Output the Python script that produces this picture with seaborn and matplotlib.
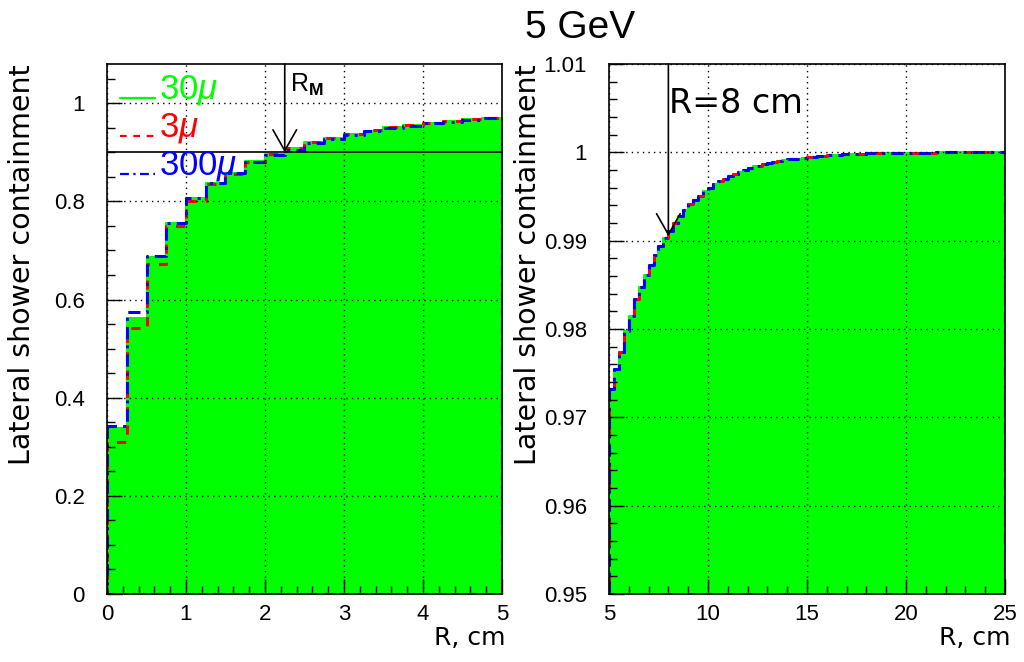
import numpy as np
import pandas as pd
import matplotlib
matplotlib.use('Agg')
import matplotlib.pyplot as plt
import seaborn as sns
from matplotlib.ticker import MultipleLocator, FuncFormatter
from matplotlib.lines import Line2D
from matplotlib.legend_handler import HandlerLine2D

# bin edges (cm)
r_edges_left = np.arange(0, 5.01, 0.25)
r_edges_right = np.arange(5, 25.01, 0.25)

# containment per bin
cont_30_left = [0.338, 0.563, 0.687, 0.757, 0.806, 0.838, 0.858, 0.882, 0.897, 0.908,
                0.921, 0.929, 0.938, 0.944, 0.951, 0.955, 0.960, 0.963, 0.967, 0.971]
cont_3_left = [0.310, 0.543, 0.672, 0.750, 0.800, 0.835, 0.856, 0.880, 0.897, 0.908,
               0.922, 0.930, 0.938, 0.945, 0.951, 0.956, 0.960, 0.964, 0.967, 0.971]
cont_300_left = [0.343, 0.574, 0.689, 0.757, 0.806, 0.838, 0.858, 0.881, 0.895, 0.905,
                 0.919, 0.928, 0.936, 0.943, 0.950, 0.954, 0.959, 0.962, 0.966, 0.970]

cont_30_right = [0.9732, 0.9755, 0.9774, 0.9798, 0.9815, 0.9834, 0.9848, 0.9861, 0.9873, 0.9884, 0.9894, 0.9903,
                 0.9911, 0.9920, 0.9928, 0.9935, 0.9941, 0.9946, 0.9951, 0.9956, 0.9960, 0.9964, 0.9967, 0.9970,
                 0.9973, 0.9976, 0.9978, 0.9980, 0.9982, 0.9984, 0.9985, 0.9987, 0.9988, 0.9989, 0.9990, 0.9991,
                 0.9992, 0.9993, 0.9993, 0.9994, 0.9995, 0.9995, 0.9996, 0.9996, 0.9997, 0.9997, 0.9997, 0.9998,
                 0.9998, 0.9998, 0.9998, 0.9998, 0.9999, 0.9999, 0.9999, 0.9999, 0.9999, 0.9999, 0.9999, 0.9999,
                 0.9999, 0.9999, 0.9999, 0.9999, 0.9999, 0.9999, 1.0000, 1.0000, 1.0000, 1.0000, 1.0000, 1.0000,
                 1.0000, 1.0000, 1.0000, 1.0000, 1.0000, 1.0000, 1.0000, 1.0000]
# the three curves overlap on the right panel
cont_3_right = cont_30_right
cont_300_right = cont_30_right

labels = ['30$\\mu$', '3$\\mu$', '300$\\mu$']
colors = ['#00ff00', '#ff0000', '#0000ff']
styles = ['-', (0, (3, 3)), (0, (4, 2, 1, 2))]

sns.set_style('white', {'text.color': 'black', 'axes.labelcolor': 'black',
                        'xtick.color': 'black', 'ytick.color': 'black'})
plt.rcParams['font.family'] = ['Liberation Sans', 'DejaVu Sans']
plt.rcParams['mathtext.fontset'] = 'custom'
plt.rcParams['mathtext.it'] = 'Liberation Sans:italic'
plt.rcParams['mathtext.rm'] = 'Liberation Sans'
plt.rcParams['mathtext.bf'] = 'Liberation Sans:bold'

fig = plt.figure(figsize=(10.24, 6.62), dpi=100)
ax1 = fig.add_axes([0.1045, 0.1027, 0.3857, 0.8006])
ax2 = fig.add_axes([0.5947, 0.1027, 0.3867, 0.8006])


def draw_hists(ax, edges, series):
    centers = (edges[:-1] + edges[1:]) / 2
    for i, vals in enumerate(series):
        df = pd.DataFrame({'R': centers, 'cont': vals})
        if i == 0:
            sns.histplot(data=df, x='R', weights='cont', bins=list(edges), element='step', fill=True,
                         color=colors[i], alpha=1, lw=1.5, ax=ax)
        else:
            sns.histplot(data=df, x='R', weights='cont', bins=list(edges), element='step', fill=True,
                         color=colors[i], alpha=0, linestyle=styles[i], lw=2.2, ax=ax)


draw_hists(ax1, r_edges_left, [cont_30_left, cont_3_left, cont_300_left])
draw_hists(ax2, r_edges_right, [cont_30_right, cont_3_right, cont_300_right])

ax1.set_xlim(0, 5)
ax1.set_ylim(0, 1.08)
ax2.set_xlim(5, 25)
ax2.set_ylim(0.95, 1.01)

fmt = FuncFormatter(lambda v, p: f'{v:.2f}'.rstrip('0').rstrip('.'))
ax1.xaxis.set_major_locator(MultipleLocator(1))
ax1.xaxis.set_minor_locator(MultipleLocator(0.2))
ax1.yaxis.set_major_locator(MultipleLocator(0.2))
ax1.yaxis.set_minor_locator(MultipleLocator(0.05))
ax2.xaxis.set_major_locator(MultipleLocator(5))
ax2.xaxis.set_minor_locator(MultipleLocator(1))
ax2.yaxis.set_major_locator(MultipleLocator(0.01))
ax2.yaxis.set_minor_locator(MultipleLocator(0.002))
for ax in (ax1, ax2):
    ax.xaxis.set_major_formatter(fmt)
    ax.yaxis.set_major_formatter(fmt)

for ax in (ax1, ax2):
    ax.set_axisbelow(False)
    ax.grid(True, which='major', color='black', linestyle=(0, (1, 3)), lw=1)
    ax.tick_params(which='major', direction='in', length=11, width=1, labelsize=16,
                   left=True, bottom=True, top=False, right=False)
    ax.tick_params(which='minor', direction='in', length=6, width=1,
                   left=True, bottom=True, top=False, right=False)
    ax.tick_params(axis='y', which='major', pad=16)
    ax.tick_params(axis='x', which='major', pad=7)
    for s in ax.spines.values():
        s.set_color('black')
        s.set_linewidth(1.2)
    ax.set_xlabel('R, cm', loc='right', fontsize=18, family='DejaVu Sans')
    ax.set_ylabel('Lateral shower containment', loc='top', fontsize=20.5, family='DejaVu Sans')

ax1.yaxis.set_label_coords(-0.18, 1.0)
ax2.yaxis.set_label_coords(-0.168, 1.0)
ax1.xaxis.set_label_coords(1.008, -0.06)
ax2.xaxis.set_label_coords(1.015, -0.06)

# 90% line and Moliere radius
ax1.axhline(0.9, color='black', lw=1.2)
arrow = dict(arrowstyle='->,head_length=1.5,head_width=0.85', color='black', lw=1.2,
             shrinkA=0, shrinkB=0)
ax1.annotate('', xy=(2.25, 0.9), xytext=(2.25, 1.08), arrowprops=arrow)
ax1.text(2.32, 1.065, 'R$_{\\mathbf{M}}$', fontsize=18, va='top', ha='left')

ax2.annotate('', xy=(8, 0.9905), xytext=(8, 1.01), arrowprops=arrow)
ax2.text(8.05, 1.0055, 'R=8 cm', fontsize=24, va='center', ha='left', family='DejaVu Sans')


class BaselineLine(HandlerLine2D):
    # ROOT-style legend: sample line sits on the text baseline
    def create_artists(self, legend, orig_handle, xdescent, ydescent, width, height, fontsize, trans):
        arts = super().create_artists(legend, orig_handle, xdescent, ydescent, width, height, fontsize, trans)
        for a in arts:
            a.set_ydata(np.zeros_like(a.get_ydata()) + 0.03 * fontsize)
        return arts


handles = [Line2D([], [], color=c, linestyle=st, lw=1.6) for c, st in zip(colors, styles)]
ax1.legend(handles, labels, loc='upper left', bbox_to_anchor=(0.025, 0.99), frameon=False,
           fontsize=25, handlelength=1.0, handletextpad=0.1, labelspacing=0.1,
           borderaxespad=0, borderpad=0.1, labelcolor=colors,
           handler_map={Line2D: BaselineLine()})

fig.text(0.566, 0.958, '5 GeV', fontsize=28, ha='center', va='center')

fig.savefig('out.png', dpi=100)
